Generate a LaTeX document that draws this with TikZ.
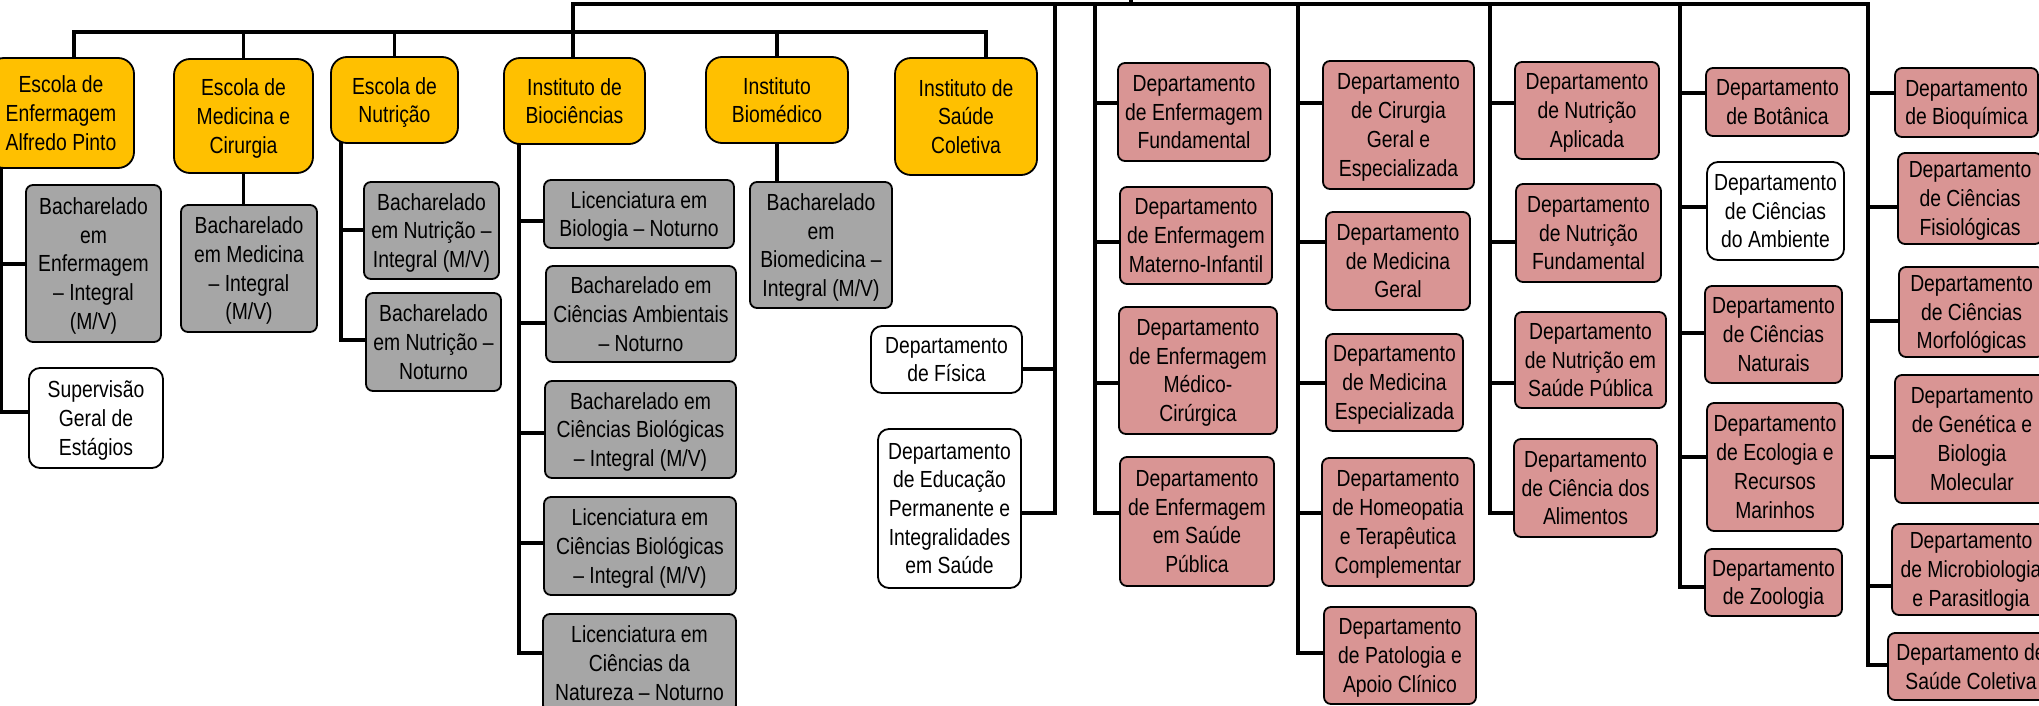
\documentclass[tikz,border=0pt]{standalone}
\usepackage{fontspec}
\setmainfont[FakeStretch=0.83]{Liberation Sans}
\usetikzlibrary{backgrounds}
\definecolor{yel}{HTML}{FFC000}
\definecolor{gry}{HTML}{A6A6A6}
\definecolor{pnk}{HTML}{D99594}
\tikzset{
  box/.style={draw=black, line width=1.8pt, inner sep=0pt, outer sep=0pt, align=center,
    font=\fontsize{23.3}{28.7}\selectfont, rounded corners=7pt, text depth=0pt},
  unitbox/.style={box, fill=yel, rounded corners=16pt},
  coursebox/.style={box, fill=gry},
  deptbox/.style={box, fill=pnk},
  whitebox/.style={box, fill=white, rounded corners=11pt},
  conn/.style={line width=3.5pt, line cap=rect}
}
\newcommand\ubox[7]{\node[#1, minimum width={(#5)-(#3)}, minimum height={(#6)-(#4)}] (#2) at ({((#3)+(#5))/2},{((#4)+(#6))/2}) {#7};}
\newcommand\brx[4]{\draw[conn] (#1.#2 |- 0,#3) -- (#4 |- 0,#3);}
\begin{document}
\begin{tikzpicture}[x=1pt,y=-1pt]
\useasboundingbox (0,0) rectangle (2039,706);
\clip (0,0) rectangle (2039,706);
% units
\ubox{unitbox}{escEnf}{-12}{58}{134}{168}{Escola de\\Enfermagem\\Alfredo Pinto}
\ubox{unitbox}{escMed}{174}{59}{313}{173}{Escola de\\Medicina e\\Cirurgia}
\ubox{unitbox}{escNut}{331}{57}{458}{143}{Escola de\\Nutrição}
\ubox{unitbox}{instBio}{504}{58}{645}{144}{Instituto de\\Biociências}
\ubox{unitbox}{instBiom}{706}{57}{848}{143}{Instituto\\Biomédico}
\ubox{unitbox}{instSC}{895}{58}{1037}{175}{Instituto de\\Saúde\\Coletiva}
% courses
\ubox{coursebox}{gEnf}{26}{185}{161}{342}{Bacharelado\\em\\Enfermagem\\– Integral\\(M/V)}
\ubox{coursebox}{gMed}{181}{205}{317}{332}{Bacharelado\\em Medicina\\– Integral\\(M/V)}
\ubox{coursebox}{gNut1}{364}{182}{499}{279}{Bacharelado\\em Nutrição –\\Integral (M/V)}
\ubox{coursebox}{gNut2}{366}{293}{501}{391}{Bacharelado\\em Nutrição –\\Noturno}
\ubox{coursebox}{gBio1}{544}{180}{734}{248}{Licenciatura em\\Biologia – Noturno}
\ubox{coursebox}{gBio2}{546}{266}{736}{362}{Bacharelado em\\Ciências Ambientais\\– Noturno}
\ubox{coursebox}{gBio3}{545}{381}{736}{478}{Bacharelado em\\Ciências Biológicas\\– Integral (M/V)}
\ubox{coursebox}{gBio4}{544}{497}{736}{595}{Licenciatura em\\Ciências Biológicas\\– Integral (M/V)}
\ubox{coursebox}{gBio5}{543}{614}{736}{712}{Licenciatura em\\Ciências da\\Natureza – Noturno}
\ubox{coursebox}{gBiom}{750}{182}{892}{308}{Bacharelado\\em\\Biomedicina –\\Integral (M/V)}
% white
\ubox{whitebox}{wSup}{29}{368}{163}{468}{Supervisão\\Geral de\\Estágios}
\ubox{whitebox}{wFis}{871}{326}{1022}{393}{Departamento\\de Física}
\ubox{whitebox}{wEdu}{878}{429}{1021}{588}{Departamento\\de Educação\\Permanente e\\Integralidades\\em Saúde}
\ubox{whitebox}{wAmb}{1707}{162}{1844}{260}{Departamento\\de Ciências\\do Ambiente}
% departments
\ubox{deptbox}{dEnf1}{1118}{63}{1270}{161}{Departamento\\de Enfermagem\\Fundamental}
\ubox{deptbox}{dEnf2}{1120}{187}{1272}{284}{Departamento\\de Enfermagem\\Materno-Infantil}
\ubox{deptbox}{dEnf3}{1119}{307}{1277}{434}{Departamento\\de Enfermagem\\Médico-\\Cirúrgica}
\ubox{deptbox}{dEnf4}{1120}{457}{1274}{586}{Departamento\\de Enfermagem\\em Saúde\\Pública}
\ubox{deptbox}{dMed1}{1323}{61}{1474}{189}{Departamento\\de Cirurgia\\Geral e\\Especializada}
\ubox{deptbox}{dMed2}{1326}{212}{1470}{310}{Departamento\\de Medicina\\Geral}
\ubox{deptbox}{dMed3}{1326}{334}{1463}{431}{Departamento\\de Medicina\\Especializada}
\ubox{deptbox}{dMed4}{1322}{458}{1474}{586}{Departamento\\de Homeopatia\\e Terapêutica\\Complementar}
\ubox{deptbox}{dMed5}{1324}{607}{1476}{704}{Departamento\\de Patologia e\\Apoio Clínico}
\ubox{deptbox}{dNut1}{1515}{62}{1659}{159}{Departamento\\de Nutrição\\Aplicada}
\ubox{deptbox}{dNut2}{1516}{184}{1661}{282}{Departamento\\de Nutrição\\Fundamental}
\ubox{deptbox}{dNut3}{1515}{312}{1666}{408}{Departamento\\de Nutrição em\\Saúde Pública}
\ubox{deptbox}{dNut4}{1514}{439}{1657}{537}{Departamento\\de Ciência dos\\Alimentos}
\ubox{deptbox}{dBot}{1706}{68}{1849}{136}{Departamento\\de Botânica}
\ubox{deptbox}{dNat}{1705}{286}{1842}{383}{Departamento\\de Ciências\\Naturais}
\ubox{deptbox}{dEco}{1707}{403}{1843}{531}{Departamento\\de Ecologia e\\Recursos\\Marinhos}
\ubox{deptbox}{dZoo}{1705}{549}{1842}{616}{Departamento\\de Zoologia}
\ubox{deptbox}{dBioq}{1895}{68}{2038}{137}{Departamento\\de Bioquímica}
\ubox{deptbox}{dFis}{1898}{153}{2042}{244}{Departamento\\de Ciências\\Fisiológicas}
\ubox{deptbox}{dMorf}{1899}{267}{2044}{357}{Departamento\\de Ciências\\Morfológicas}
\ubox{deptbox}{dGen}{1895}{375}{2049}{503}{Departamento\\de Genética e\\Biologia\\Molecular}
\ubox{deptbox}{dMic}{1892}{524}{2050}{615}{Departamento\\de Microbiologia\\e Parasitlogia}
\ubox{deptbox}{dSC}{1888}{633}{2054}{700}{Departamento de\\Saúde Coletiva}
% connector coordinates
\coordinate (aL) at (573,4);
\coordinate (aR) at (1868,4);
\coordinate (root) at (1131,-8);
\coordinate (bL) at (74,32);
\coordinate (bR) at (986,32);
\coordinate (eV) at (1,412);
\coordinate (nV) at (341,340);
\coordinate (iV) at (519,653);
\coordinate (c1) at (1055,513);
\coordinate (c2) at (1095,513);
\coordinate (c3) at (1298,653);
\coordinate (c4) at (1490,513);
\coordinate (c5) at (1680,587);
\coordinate (c6) at (1868,665);
\begin{pgfonlayer}{background}
\draw[conn] (aL) -- (aR);
\draw[conn] (root) -- (root |- aL);
\draw[conn] (aL) -- (aL |- instBio.north);
\foreach \c in {c1,c2,c3,c4,c5,c6} {\draw[conn] (\c |- aL) -- (\c);}
\draw[conn] (bL) -- (bR);
\draw[conn] (bL) -- (bL |- escEnf.north);
\draw[conn] (escMed.north) -- (escMed.north |- bL);
\draw[conn] (escNut.north) -- (escNut.north |- bL);
\draw[conn] (instBiom.north) -- (instBiom.north |- bL);
\draw[conn] (bR) -- (bR |- instSC.north);
% schools
\draw[conn] (eV |- escEnf.south) -- (eV);
\brx{gEnf}{west}{264}{eV}
\brx{wSup}{west}{412}{eV}
\draw[conn] (escMed.south) -- (escMed.south |- gMed.north);
\draw[conn] (nV |- escNut.south) -- (nV);
\brx{gNut1}{west}{230}{nV}
\brx{gNut2}{west}{340}{nV}
\draw[conn] (iV |- instBio.south) -- (iV);
\brx{gBio1}{west}{221}{iV}
\brx{gBio2}{west}{323}{iV}
\brx{gBio3}{west}{433}{iV}
\brx{gBio4}{west}{543}{iV}
\brx{gBio5}{west}{653}{iV}
\draw[conn] (instBiom.south) -- (instBiom.south |- gBiom.north);
% departments
\brx{wFis}{east}{369}{c1}
\brx{wEdu}{east}{513}{c1}
\brx{dEnf1}{west}{103}{c2}
\brx{dEnf2}{west}{242}{c2}
\brx{dEnf3}{west}{383}{c2}
\brx{dEnf4}{west}{513}{c2}
\brx{dMed1}{west}{103}{c3}
\brx{dMed2}{west}{242}{c3}
\brx{dMed3}{west}{383}{c3}
\brx{dMed4}{west}{513}{c3}
\brx{dMed5}{west}{653}{c3}
\brx{dNut1}{west}{103}{c4}
\brx{dNut2}{west}{242}{c4}
\brx{dNut3}{west}{383}{c4}
\brx{dNut4}{west}{513}{c4}
\brx{dBot}{west}{93}{c5}
\brx{wAmb}{west}{207}{c5}
\brx{dNat}{west}{333}{c5}
\brx{dEco}{west}{457}{c5}
\brx{dZoo}{west}{587}{c5}
\brx{dBioq}{west}{93}{c6}
\brx{dFis}{west}{207}{c6}
\brx{dMorf}{west}{321}{c6}
\brx{dGen}{west}{457}{c6}
\brx{dMic}{west}{586}{c6}
\brx{dSC}{west}{665}{c6}
\end{pgfonlayer}
\end{tikzpicture}
\end{document}
